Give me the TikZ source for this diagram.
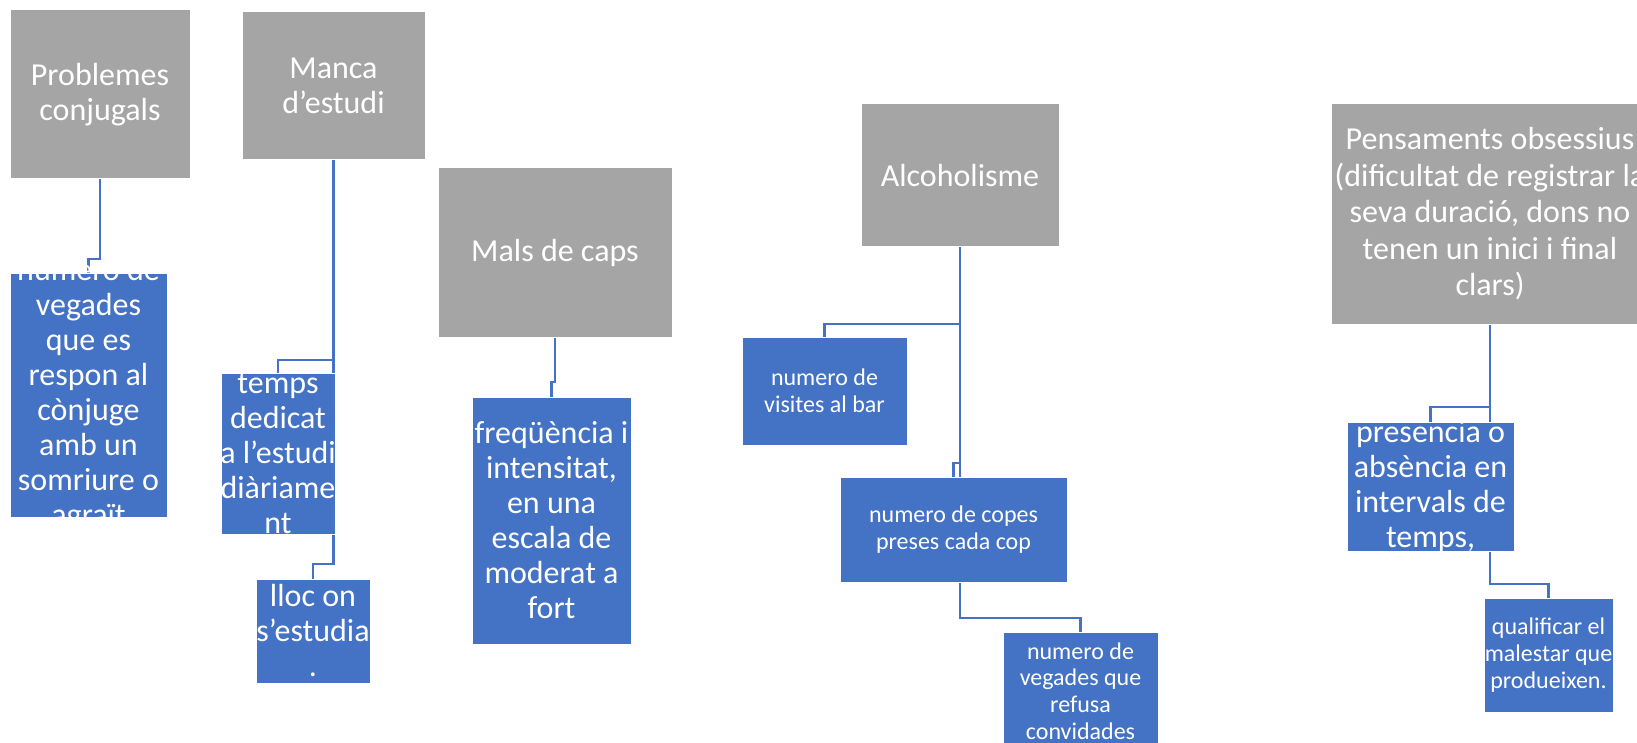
\documentclass[tikz,border=0pt]{standalone}
\usepackage{fontspec}
\setmainfont{Carlito}
\usetikzlibrary{positioning,backgrounds}
\definecolor{boxgray}{HTML}{A5A5A5}
\definecolor{boxblue}{HTML}{4472C4}

\begin{document}
\begin{tikzpicture}[x=1pt, y=-1pt, every node/.style={outer sep=0pt},
        graybox/.style={rectangle, fill=boxgray, draw=white, line width=1pt, inner sep=0pt},
        bluebox/.style={rectangle, fill=boxblue, draw=white, line width=1pt, inner sep=0pt},
        bigtext/.style={text=white, align=center, inner sep=0pt, font=\fontsize{32}{35}\selectfont},
        smalltext/.style={text=white, align=center, inner sep=0pt, font=\fontsize{24}{26.7}\selectfont},
        link/.style={draw=boxblue, line width=2.5pt}]
        \useasboundingbox (0,0) rectangle (1637,743);

        % problemes conjugals
        \node[graybox, minimum width=180pt, minimum height=169pt] (prob) at (100,94.5) {};
        \node[bigtext] (probtext) at (prob) {Problemes\\conjugals};
        \node[bluebox, minimum width=157pt, minimum height=244pt, below=94pt of prob, xshift=-11.5pt] (num) {};
        \node[bigtext] (numtext) at (num) {numero de\\vegades\\que es\\respon al\\cònjuge\\amb un\\somriure o\\agraït};

        % manca d'estudi
        \node[graybox, minimum width=183pt, minimum height=148pt] (manca) at (333.5,86) {};
        \node[bigtext] (mancatext) at (manca) {Manca\\d’estudi};
        \node[bluebox, minimum width=114pt, minimum height=161pt, below=213pt of manca, xshift=-55.5pt] (temps) {};
        \node[bigtext] (tempstext) at (temps) {temps\\dedicat\\a l’estudi\\diàriame\\nt};
        \node[bluebox, minimum width=114pt, minimum height=104pt, below=45pt of temps, xshift=35pt] (lloc) {};
        \node[bigtext] (lloctext) at (lloc) {lloc on\\s’estudia\\.};

        % mals de caps
        \node[graybox, minimum width=234pt, minimum height=169pt] (mals) at (555,252.5) {};
        \node[bigtext] (malstext) at (mals) {Mals de caps};
        \node[bluebox, minimum width=159pt, minimum height=247pt, below=60pt of mals, xshift=-3.5pt] (freq) {};
        \node[bigtext] (freqtext) at (freq) {freqüència i\\intensitat,\\en una\\escala de\\moderat a\\fort};

        % alcoholisme
        \node[graybox, minimum width=198pt, minimum height=143pt] (alco) at (960,175.5) {};
        \node[bigtext] (alcotext) at (alco) {Alcoholisme};
        \node[bluebox, minimum width=165pt, minimum height=108pt, below=90pt of alco, xshift=-135.5pt] (visites) {};
        \node[smalltext] (visitestext) at (visites) {numero de\\visites al bar};
        \node[bluebox, minimum width=227pt, minimum height=105pt, below=230pt of alco, xshift=-6.5pt] (copes) {};
        \node[smalltext] (copestext) at (copes) {numero de copes\\preses cada cop};
        \node[bluebox, minimum width=155pt, minimum height=118pt, below=50pt of copes, xshift=127pt] (refusa) {};
        \node[smalltext] (refusatext) at (refusa) {numero de\\vegades que\\refusa\\convidades};

        % pensaments obsessius
        \node[graybox, minimum width=318pt, minimum height=220pt] (pens) at (1490,214) {};
        \node[bigtext, font=\fontsize{32}{36.5}\selectfont] (penstext) at (pens) {Pensaments obsessius\\(dificultat de registrar la\\seva duració, dons no\\tenen un inici i final\\clars)};
        \node[bluebox, minimum width=167pt, minimum height=129pt, below=98pt of pens, xshift=-59.5pt] (pres) {};
        \node[bigtext] (prestext) at (pres) {presencia o\\absència en\\intervals de\\temps,};
        \node[bluebox, minimum width=129pt, minimum height=114pt, below=47pt of pres, xshift=118pt] (qual) {};
        \node[smalltext] (qualtext) at (qual) {qualificar el\\malestar que\\produeixen.};

        \begin{scope}[on background layer]
        \draw[link] (prob.south) -- ++(0,80) -| (num.north);
        \draw[link] (manca.south) -- ++(0,200) -| (temps.north);
        \draw[link] (manca.south) -- ++(0,404) -| (lloc.north);
        \draw[link] (mals.south) -- ++(0,45) -| (freq.north);
        \draw[link] (alco.south) -- ++(0,77) -| (visites.north);
        \draw[link] (alco.south) -- ++(0,216) -| (copes.north);
        \draw[link] (alco.south) -- ++(0,371) -| (refusa.north);
        \draw[link] (pens.south) -- ++(0,83) -| (pres.north);
        \draw[link] (pens.south) -- ++(0,260) -| (qual.north);
        \end{scope}
      \end{tikzpicture}
\end{document}
